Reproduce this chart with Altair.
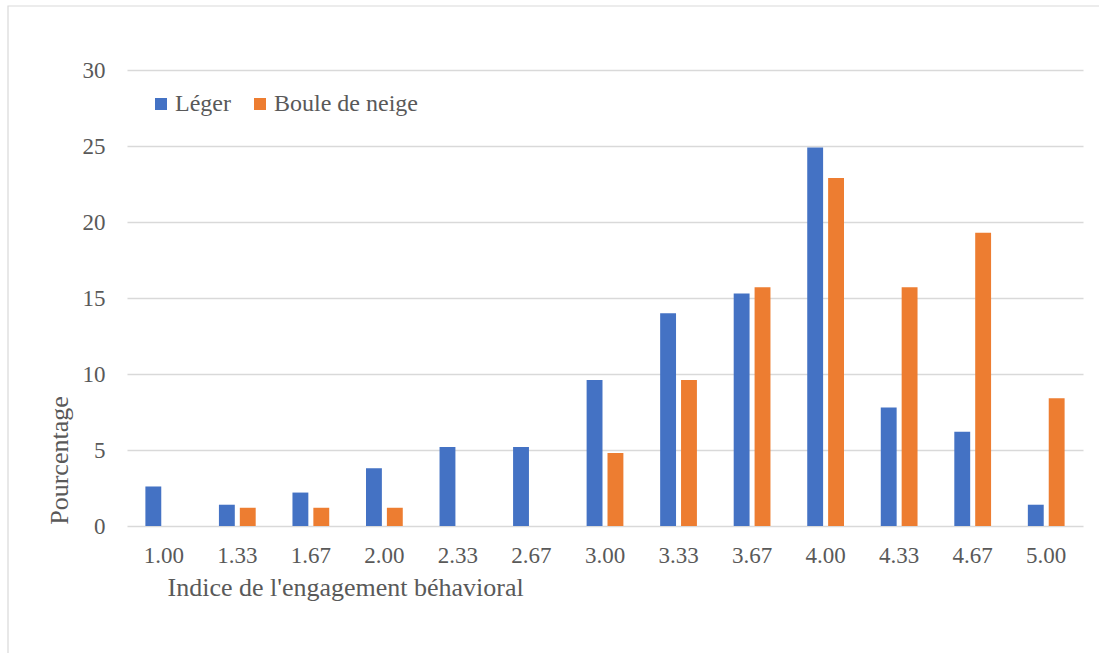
import altair as alt
import pandas as pd

# Behavioural engagement index categories (x axis)
categories = ["1.00", "1.33", "1.67", "2.00", "2.33", "2.67", "3.00",
              "3.33", "3.67", "4.00", "4.33", "4.67", "5.00"]

# Percentage of respondents per category, one list per sample
leger = [2.6, 1.4, 2.2, 3.8, 5.2, 5.2, 9.6, 14.0, 15.3, 24.9, 7.8, 6.2, 1.4]
boule_de_neige = [0.0, 1.2, 1.2, 1.2, 0.0, 0.0, 4.8, 9.6, 15.7, 22.9, 15.7, 19.3, 8.4]

series_names = ["Léger", "Boule de neige"]
series_colors = ["#4472C4", "#ED7D31"]

rows = []
for cat, a, b in zip(categories, leger, boule_de_neige):
    rows.append({"indice": cat, "serie": series_names[0], "pct": a})
    rows.append({"indice": cat, "serie": series_names[1], "pct": b})
df = pd.DataFrame(rows)

FONT = "Liberation Serif"
TEXT = "#595959"
GRID = "#d9d9d9"

bars = alt.Chart(df).mark_bar().encode(
    x=alt.X(
        "indice:N",
        sort=categories,
        scale=alt.Scale(paddingInner=0.5, paddingOuter=0.25),
        axis=alt.Axis(
            title="Indice de l'engagement béhavioral",
            labelAngle=0,
            labelBaseline="alphabetic",
            labelPadding=36,
            ticks=False,
            tickSize=0,
            domain=False,
            titleAnchor="start",
            titleAlign="left",
            titleBaseline="alphabetic",
            titleX=40,
            titleY=69,
        ),
    ),
    xOffset=alt.XOffset(
        "serie:N",
        sort=series_names,
        scale=alt.Scale(paddingInner=0.24, paddingOuter=0),
    ),
    y=alt.Y(
        "pct:Q",
        scale=alt.Scale(domain=[0, 30], nice=False),
        axis=alt.Axis(
            title="Pourcentage",
            values=[0, 5, 10, 15, 20, 25, 30],
            labelPadding=22,
            ticks=False,
            tickSize=0,
            domain=False,
            grid=True,
            gridColor=GRID,
            gridWidth=1.4,
            titleAngle=-90,
            titleAlign="center",
            titleBaseline="alphabetic",
            titleX=-60,
            titleY=390,
        ),
    ),
    color=alt.Color(
        "serie:N",
        sort=series_names,
        scale=alt.Scale(domain=series_names, range=series_colors),
        legend=alt.Legend(
            title=None,
            orient="none",
            direction="horizontal",
            legendX=22,
            legendY=22,
            symbolType="square",
            symbolSize=144,
            symbolStrokeWidth=0,
            labelOffset=2,
            columnPadding=17,
            padding=0,
        ),
    ),
)

# Light frame around the whole figure
frame = alt.Chart(alt.Data(values=[{}])).mark_rect(
    fill=None, stroke=GRID, strokeWidth=1.2
).encode(
    x=alt.value(-119), x2=alt.value(980),
    y=alt.value(-64), y2=alt.value(600),
)

chart = alt.layer(frame, bars).properties(
    width=956,
    height=456,
    autosize=alt.AutoSizeParams(type="none"),
    padding={"left": 127, "top": 70, "right": 16, "bottom": 127},
    background="white",
).configure_view(
    stroke=None
).configure_axis(
    labelFont=FONT,
    labelFontSize=23,
    labelColor=TEXT,
    titleFont=FONT,
    titleFontSize=26,
    titleFontWeight="normal",
    titleColor=TEXT,
).configure_legend(
    labelFont=FONT,
    labelFontSize=24,
    labelColor=TEXT,
)

chart.save("out.html", embed_options={"renderer": "svg", "actions": False})
